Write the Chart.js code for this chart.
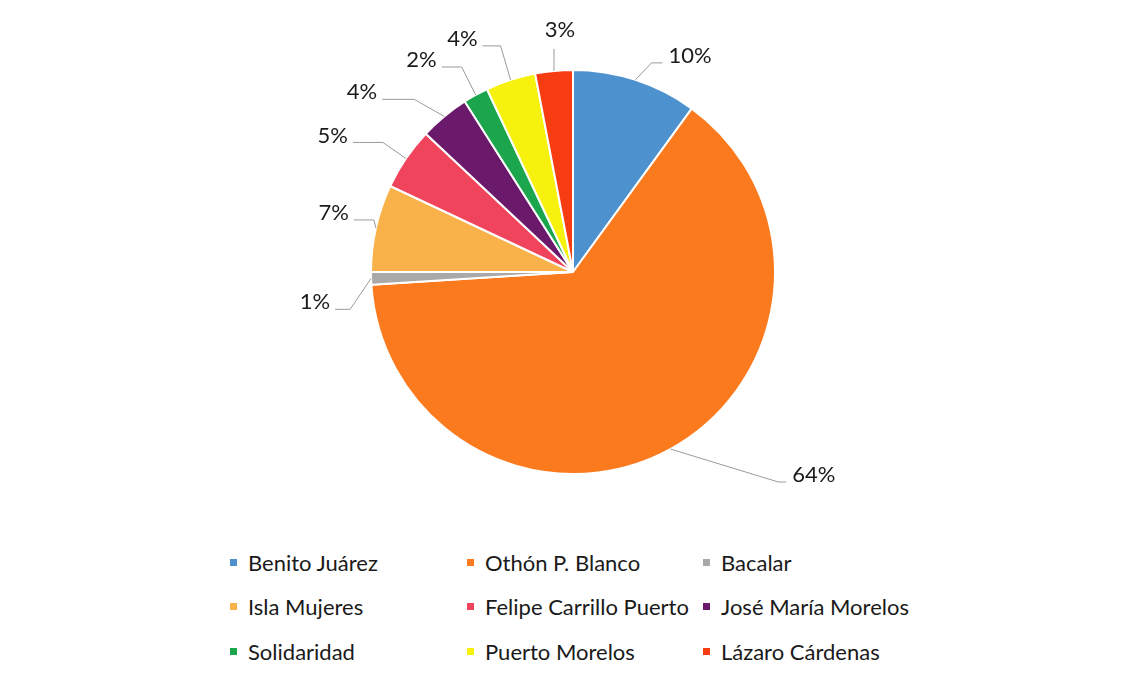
<!DOCTYPE html>
<html>
<head>
<meta charset="utf-8">
<script src="https://cdn.jsdelivr.net/npm/chart.js@4.4.1/dist/chart.umd.min.js"></script>
<style>
    html, body { margin: 0; padding: 0; background: #fff; }
    body { width: 1127px; height: 679px; position: relative; overflow: hidden; font-family: Lato, "Noto Sans", sans-serif; }
    #wrap { position: absolute; left: 0; top: 0; width: 1127px; height: 530px; }
    #legend {
        position: absolute; left: 230px; top: 540px;
        display: grid; grid-template-columns: 237px 236px auto;
        grid-auto-rows: 44.5px; align-items: center;
        font-size: 22px; color: #1a1a1a;
    }
    #legend .item { display: flex; align-items: center; white-space: nowrap; }
    #legend .box { width: 7px; height: 7px; margin-right: 11px; flex: none; }
</style>
</head>
<body>
<div id="wrap"><canvas id="pie"></canvas></div>
<div id="legend"></div>
<script>
// Municipios de Quintana Roo
const municipios = [
    'Benito Juárez', 'Othón P. Blanco', 'Bacalar',
    'Isla Mujeres', 'Felipe Carrillo Puerto', 'José María Morelos',
    'Solidaridad', 'Puerto Morelos', 'Lázaro Cárdenas'
];
const porcentajes = [10, 64, 1, 7, 5, 4, 2, 4, 3];
const colores = [
    '#4e91cf', '#fb7a1e', '#a9a9a9',
    '#f9b14a', '#f0435c', '#6b1a6b',
    '#1ba64d', '#f6f20e', '#f83c12'
];

// Leader line layout per slice: elbow offset from the slice edge, then horizontal run
const leaders = [
    { dx: 16, dy: -17, h: 11 },
    { dx: 108, dy: 33, h: 8 },
    { dx: -21, dy: 31, h: -15 },
    { dx: -2, dy: -8, h: -20 },
    { dx: -23, dy: -16, h: -30 },
    { dx: -30, dy: -17, h: -32 },
    { dx: -14, dy: -28, h: -20 },
    { dx: -10, dy: -34, h: -18 },
    { dx: 0, dy: -22, h: 0 }
];

const FONT = 'Lato, "Noto Sans", sans-serif';

/**
 * Draws the percentage labels with leader lines outside the pie
 */
const outsideLabels = {
    id: 'outsideLabels',
    afterDatasetsDraw(chart) {
        const ctx = chart.ctx;
        const meta = chart.getDatasetMeta(0);
        ctx.save();
        ctx.font = '22px ' + FONT;
        ctx.fillStyle = '#1a1a1a';
        ctx.strokeStyle = '#9a9a9a';
        ctx.lineWidth = 1;
        meta.data.forEach((arc, i) => {
            const p = arc.getProps(['x', 'y', 'startAngle', 'endAngle', 'outerRadius'], true);
            const mid = (p.startAngle + p.endAngle) / 2;
            const ex = p.x + Math.cos(mid) * p.outerRadius;
            const ey = p.y + Math.sin(mid) * p.outerRadius;
            const l = leaders[i];
            const bx = ex + l.dx, by = ey + l.dy;
            const endX = bx + l.h, endY = by;

            ctx.beginPath();
            ctx.moveTo(ex, ey);
            ctx.lineTo(bx, by);
            ctx.lineTo(endX, endY);
            ctx.stroke();

            const text = porcentajes[i] + '%';
            ctx.textBaseline = 'middle';
            if (l.h > 0) {
                ctx.textAlign = 'left';
                ctx.fillText(text, endX + 6, endY - 7);
            } else if (l.h < 0) {
                ctx.textAlign = 'right';
                ctx.fillText(text, endX - 5, endY - 7);
            } else {
                ctx.textAlign = 'center';
                ctx.fillText(text, endX + 6, endY - 19);
            }
        });
        ctx.restore();
    }
};

const chart = new Chart(document.getElementById('pie'), {
    type: 'pie',
    data: {
        labels: municipios,
        datasets: [{
            data: porcentajes,
            backgroundColor: colores,
            borderColor: '#ffffff',
            borderWidth: 2,
            radius: 202
        }]
    },
    options: {
        responsive: true,
        maintainAspectRatio: false,
        animation: false,
        layout: { padding: { top: 70, bottom: 56, left: 371, right: 352 } },
        plugins: {
            legend: { display: false },
            tooltip: { enabled: false }
        }
    },
    plugins: [outsideLabels]
});

// Legend in three columns
const legendEl = document.getElementById('legend');
municipios.forEach((name, i) => {
    const item = document.createElement('div');
    item.className = 'item';
    const box = document.createElement('span');
    box.className = 'box';
    box.style.background = colores[i];
    const label = document.createElement('span');
    label.textContent = name;
    item.appendChild(box);
    item.appendChild(label);
    legendEl.appendChild(item);
});
</script>
</body>
</html>
